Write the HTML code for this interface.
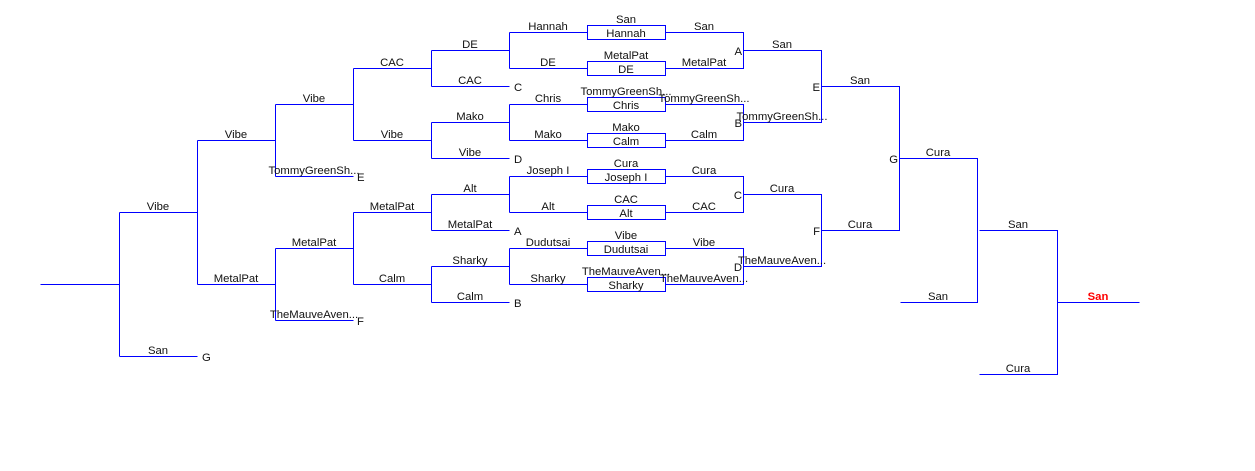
<!DOCTYPE html>
<html><head><meta charset="utf-8"><style>
html,body{margin:0;padding:0;background:#fff;}
svg{display:block;}
text{font-family:"Liberation Sans",sans-serif;font-size:11.3px;fill:#111;}
.m{text-anchor:middle;}
.e{text-anchor:end;}
</style></head><body>
<svg width="1255" height="471" viewBox="0 0 1255 471" xmlns="http://www.w3.org/2000/svg">
<g stroke="#0000ff" stroke-width="1" fill="none" shape-rendering="crispEdges" transform="translate(0.5,0.5)">
<path d="M40 284H119M119 212V356M119 212H197M119 356H197"/>
<path d="M197 140V284M197 140H275M197 284H275"/>
<path d="M275 104V176M275 104H353M275 176H353M275 248V320M275 248H353M275 320H353"/>
<path d="M353 68V140M353 68H431M353 140H431M353 212V284M353 212H431M353 284H431"/>
<path d="M431 50V86M431 50H509M431 86H509M431 122V158M431 122H509M431 158H509M431 194V230M431 194H509M431 230H509M431 266V302M431 266H509M431 302H509"/>
<path d="M509 32V68M509 104V140M509 176V212M509 248V284"/>
<path d="M509 32H587M509 68H587M509 104H587M509 140H587M509 176H587M509 212H587M509 248H587M509 284H587"/>
<rect x="587" y="25" width="78" height="14"/><rect x="587" y="61" width="78" height="14"/>
<rect x="587" y="97" width="78" height="14"/><rect x="587" y="133" width="78" height="14"/>
<rect x="587" y="169" width="78" height="14"/><rect x="587" y="205" width="78" height="14"/>
<rect x="587" y="241" width="78" height="14"/><rect x="587" y="277" width="78" height="14"/>
<path d="M665 32H743V68H665M665 104H743V140H665M665 176H743V212H665M665 248H743V284H665"/>
<path d="M743 50H821V122H743M743 194H821V266H743"/>
<path d="M821 86H899V230H821"/>
<path d="M899 158H977V302H900"/>
<path d="M979 230H1057V374H979M1057 302H1139"/>
</g>
<g>
<text class="m" x="158" y="210">Vibe</text><text class="m" x="158" y="354">San</text><text x="202" y="361">G</text>
<text class="m" x="236" y="138">Vibe</text><text class="m" x="236" y="282">MetalPat</text>
<text class="m" x="314" y="102">Vibe</text><text class="m" x="314" y="174">TommyGreenSh...</text><text x="357" y="181">E</text>
<text class="m" x="314" y="246">MetalPat</text><text class="m" x="314" y="318">TheMauveAven...</text><text x="357" y="325">F</text>
<text class="m" x="392" y="66">CAC</text><text class="m" x="392" y="138">Vibe</text>
<text class="m" x="392" y="210">MetalPat</text><text class="m" x="392" y="282">Calm</text>
<text class="m" x="470" y="48">DE</text><text class="m" x="470" y="84">CAC</text><text x="514" y="91">C</text>
<text class="m" x="470" y="120">Mako</text><text class="m" x="470" y="156">Vibe</text><text x="514" y="163">D</text>
<text class="m" x="470" y="192">Alt</text><text class="m" x="470" y="228">MetalPat</text><text x="514" y="235">A</text>
<text class="m" x="470" y="264">Sharky</text><text class="m" x="470" y="300">Calm</text><text x="514" y="307">B</text>
<text class="m" x="548" y="30">Hannah</text><text class="m" x="548" y="66">DE</text>
<text class="m" x="548" y="102">Chris</text><text class="m" x="548" y="138">Mako</text>
<text class="m" x="548" y="174">Joseph I</text><text class="m" x="548" y="210">Alt</text>
<text class="m" x="548" y="246">Dudutsai</text><text class="m" x="548" y="282">Sharky</text>
<text class="m" x="626" y="23">San</text><text class="m" x="626" y="37">Hannah</text>
<text class="m" x="626" y="59">MetalPat</text><text class="m" x="626" y="73">DE</text>
<text class="m" x="626" y="95">TommyGreenSh...</text><text class="m" x="626" y="109">Chris</text>
<text class="m" x="626" y="131">Mako</text><text class="m" x="626" y="145">Calm</text>
<text class="m" x="626" y="167">Cura</text><text class="m" x="626" y="181">Joseph I</text>
<text class="m" x="626" y="203">CAC</text><text class="m" x="626" y="217">Alt</text>
<text class="m" x="626" y="239">Vibe</text><text class="m" x="626" y="253">Dudutsai</text>
<text class="m" x="626" y="275">TheMauveAven...</text><text class="m" x="626" y="289">Sharky</text>
<text class="m" x="704" y="30">San</text><text class="m" x="704" y="66">MetalPat</text>
<text class="m" x="704" y="102">TommyGreenSh...</text><text class="m" x="704" y="138">Calm</text>
<text class="m" x="704" y="174">Cura</text><text class="m" x="704" y="210">CAC</text>
<text class="m" x="704" y="246">Vibe</text><text class="m" x="704" y="282">TheMauveAven...</text>
<text class="e" x="742" y="55">A</text><text class="e" x="742" y="127">B</text>
<text class="e" x="742" y="199">C</text><text class="e" x="742" y="271">D</text>
<text class="m" x="782" y="48">San</text><text class="m" x="782" y="120">TommyGreenSh...</text>
<text class="m" x="782" y="192">Cura</text><text class="m" x="782" y="264">TheMauveAven...</text>
<text class="e" x="820" y="91">E</text><text class="e" x="820" y="235">F</text>
<text class="m" x="860" y="84">San</text><text class="m" x="860" y="228">Cura</text>
<text class="e" x="898" y="163">G</text>
<text class="m" x="938" y="156">Cura</text><text class="m" x="938" y="300">San</text>
<text class="m" x="1018" y="228">San</text><text class="m" x="1018" y="372">Cura</text>
<text class="m" x="1098" y="300" style="fill:#ff0000;font-weight:bold">San</text>
</g>
</svg>
</body></html>
